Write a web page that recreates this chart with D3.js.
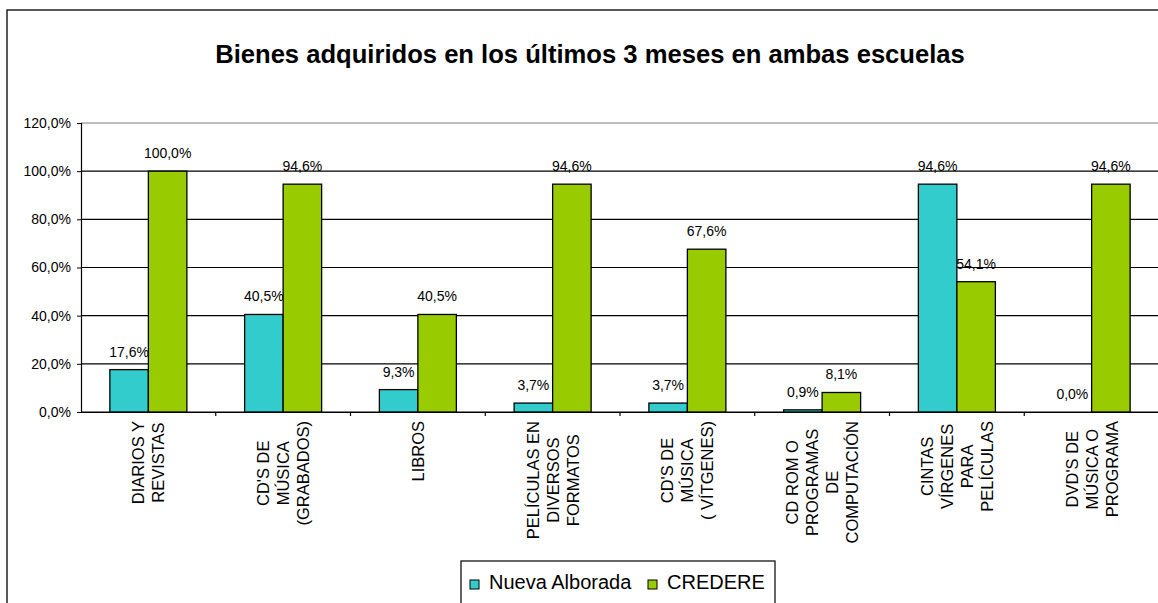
<!DOCTYPE html>
<html>
<head>
<meta charset="utf-8">
<script src="https://d3js.org/d3.v7.min.js"></script>
<style>
body { margin: 0; background: white; }
text { font-family: Arial, "Liberation Sans", sans-serif; }
</style>
</head>
<body>
<script>

//Categories, each one split in the lines shown under the axis
var categories = ["DIARIOS Y REVISTAS", "CD'S DE MÚSICA (GRABADOS)", "LIBROS", "PELÍCULAS EN DIVERSOS FORMATOS",
	"CD'S DE MÚSICA ( VÍTGENES)", "CD ROM O PROGRAMAS DE COMPUTACIÓN", "CINTAS VÍRGENES PARA PELÍCULAS", "DVD'S DE MÚSICA O PROGRAMA"];
var categoryLines = [
	["DIARIOS Y", "REVISTAS"],
	["CD'S DE", "MÚSICA", "(GRABADOS)"],
	["LIBROS"],
	["PELÍCULAS EN", "DIVERSOS", "FORMATOS"],
	["CD'S DE", "MÚSICA", "( VÍTGENES)"],
	["CD ROM O", "PROGRAMAS", "DE", "COMPUTACIÓN"],
	["CINTAS", "VÍRGENES", "PARA", "PELÍCULAS"],
	["DVD'S DE", "MÚSICA O", "PROGRAMA"]
];
var seriesNames = ["Nueva Alborada", "CREDERE"];
var nuevaAlborada = [17.6, 40.5, 9.3, 3.7, 3.7, 0.9, 94.6, 0.0];
var credere = [100.0, 94.6, 40.5, 94.6, 67.6, 8.1, 54.1, 94.6];
var yTicks = [0, 20, 40, 60, 80, 100, 120];
var colors = ["#33CCCC", "#99CC00"];

var width = 1158, height = 603;
var svg = d3.select("body").append("svg").attr("width", width).attr("height", height);

//outer chart border (chart is wider than the picture, so only left and top show)
svg.append("rect").attr("x", 7).attr("y", 10).attr("width", 1200).attr("height", 700)
	.attr("fill", "white").attr("stroke", "black").attr("stroke-width", 1.3);

svg.append("text").attr("x", 590).attr("y", 63).attr("text-anchor", "middle")
	.attr("font-size", 25.6).attr("font-weight", "bold").attr("fill", "black")
	.text("Bienes adquiridos en los últimos 3 meses en ambas escuelas");

var plotLeft = 81, plotRight = 1159, plotTop = 123, plotBottom = 412;

var x = d3.scaleBand().domain(categories).range([plotLeft, plotRight]).paddingInner(0).paddingOuter(0);
//gap width 150% -> each bar is 1/3.5 of the category
var barW = x.bandwidth() / 3.5;
var y = d3.scaleLinear().domain([0, 120]).range([plotBottom, plotTop]);

//gridlines
svg.selectAll("line.grid").data(yTicks).enter().append("line")
	.attr("x1", plotLeft).attr("x2", plotRight)
	.attr("y1", function(d) { return y(d); }).attr("y2", function(d) { return y(d); })
	.attr("stroke", function(d) { return d == 120 ? "#808080" : "black"; })
	.attr("stroke-width", 1.2);

//y axis
var yAxis = d3.axisLeft(y).tickValues(yTicks).tickSize(4).tickPadding(6)
	.tickFormat(function(d) { return d.toFixed(1).replace(".", ",") + "%"; });
var gy = svg.append("g").attr("transform", "translate(" + plotLeft + ",0)").call(yAxis);
gy.select(".domain").attr("stroke", "black").attr("stroke-width", 1.2);
gy.selectAll(".tick line").attr("stroke", "black");
gy.selectAll(".tick text").attr("font-size", 14).attr("font-family", "Arial, 'Liberation Sans', sans-serif").attr("fill", "black");

//bars
var series = [nuevaAlborada, credere];
series.forEach(function(values, s) {
	svg.selectAll("rect.s" + s).data(values).enter().append("rect")
		.attr("class", "s" + s)
		.attr("x", function(d, i) { return x(categories[i]) + x.bandwidth() / 2 - barW + s * barW; })
		.attr("y", function(d) { return y(d); })
		.attr("width", barW)
		.attr("height", function(d) { return plotBottom - y(d); })
		.attr("fill", colors[s])
		.attr("stroke", "black").attr("stroke-width", 1.3);

	svg.selectAll("text.v" + s).data(values).enter().append("text")
		.attr("class", "v" + s)
		.attr("x", function(d, i) { return x(categories[i]) + x.bandwidth() / 2 - barW / 2 + s * barW; })
		.attr("y", function(d) { return y(d) - 13; })
		.attr("text-anchor", "middle").attr("font-size", 14).attr("fill", "black")
		.text(function(d) { return d.toFixed(1).replace(".", ",") + "%"; });
});

//x axis line and ticks
var xAxis = d3.axisBottom(x).tickSize(0).tickFormat("");
var gx = svg.append("g").attr("transform", "translate(0," + plotBottom + ")").call(xAxis);
gx.select(".domain").attr("stroke", "black").attr("stroke-width", 1.2);
svg.selectAll("line.xtick").data(categories.slice(1)).enter().append("line")
	.attr("x1", function(d) { return x(d); }).attr("x2", function(d) { return x(d); })
	.attr("y1", plotBottom).attr("y2", plotBottom + 4).attr("stroke", "black").attr("stroke-width", 1.2);

//rotated category labels, lines centered, block aligned to the top
categoryLines.forEach(function(lines, i) {
	var cx = x(categories[i]) + x.bandwidth() / 2;
	var g = svg.append("g");
	var texts = lines.map(function(line, j) {
		return g.append("text")
			.attr("font-size", 16.5).attr("fill", "black")
			.attr("text-anchor", "middle").attr("dy", "0.36em")
			.text(line);
	});
	var maxLen = d3.max(texts, function(t) { return t.node().getComputedTextLength(); });
	var cy = 421 + maxLen / 2;
	texts.forEach(function(t, j) {
		var lx = cx + (j - (lines.length - 1) / 2) * 20;
		t.attr("transform", "translate(" + lx + "," + cy + ") rotate(-90)");
	});
});

//legend
var legend = svg.append("g");
legend.append("rect").attr("x", 461).attr("y", 561).attr("width", 314).attr("height", 60)
	.attr("fill", "white").attr("stroke", "black").attr("stroke-width", 1.2);
var legendX = [470, 648];
seriesNames.forEach(function(name, s) {
	legend.append("rect").attr("x", legendX[s]).attr("y", 580).attr("width", 9).attr("height", 9)
		.attr("fill", colors[s]).attr("stroke", "black").attr("stroke-width", 1);
	legend.append("text").attr("x", legendX[s] + 19).attr("y", 589)
		.attr("font-size", 20).attr("fill", "black").text(name);
});

</script>
</body>
</html>
